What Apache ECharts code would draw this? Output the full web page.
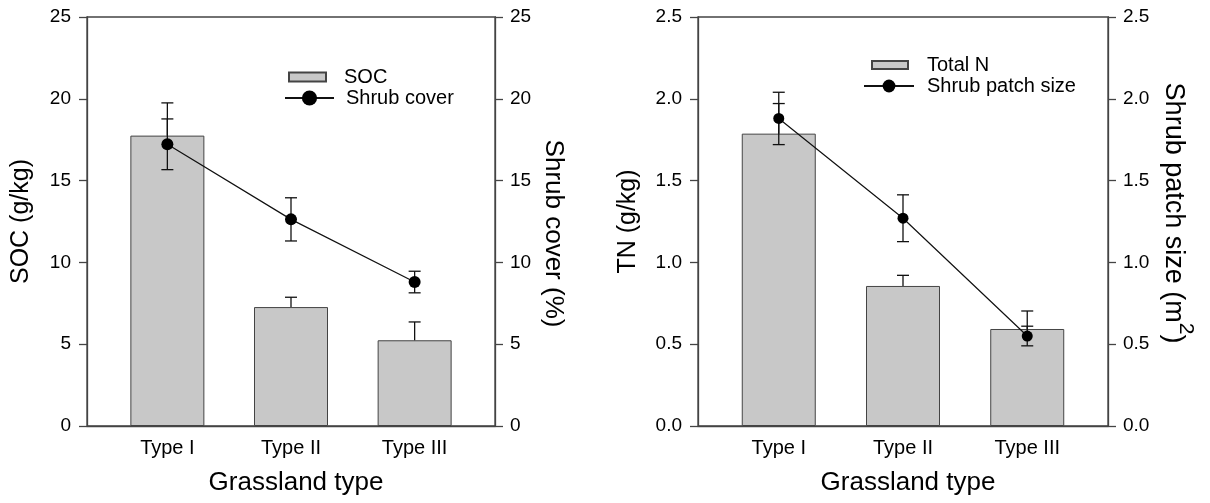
<!DOCTYPE html>
<html>
<head>
<meta charset="utf-8">
<script src="https://cdn.jsdelivr.net/npm/echarts@6/dist/echarts.min.js"></script>
<style>
  html, body { margin: 0; padding: 0; background: #fff; }
  #main { width: 1210px; height: 503px; }
</style>
</head>
<body>
<div id="main"></div>
<script>
  // data
  var categories = ['Type I', 'Type II', 'Type III'];
  var soc = [17.75, 7.27, 5.24];
  var socErr = [2.0, 0.6, 1.12];
  var shrubCover = [17.22, 12.63, 8.80];
  var shrubCoverErr = [1.55, 1.32, 0.66];
  var totalN = [1.787, 0.856, 0.593];
  var totalNErr = [0.184, 0.065, 0.11];
  var patchSize = [1.88, 1.27, 0.55];
  var patchSizeErr = [0.16, 0.143, 0.06];
  var categoryPos = [1, 2, 3];

  var FONT = 'Liberation Sans, Arial, sans-serif';
  var AXIS_COLOR = '#444';

  function pairs(vals) {
    return vals.map(function (v, i) { return [categoryPos[i], v]; });
  }
  // [x, y, err, both sides?]
  function errData(vals, errs, both) {
    return vals.map(function (v, i) { return [categoryPos[i], v, errs[i], both ? 1 : 0]; });
  }

  function renderErr(params, api) {
    var x = api.value(0), y = api.value(1), e = api.value(2), both = api.value(3);
    var top = api.coord([x, y + e]);
    var bot = api.coord([x, both ? y - e : y]);
    var w = 6;
    var st = { stroke: '#111', lineWidth: 1.3 };
    var kids = [
      { type: 'line', shape: { x1: top[0], y1: top[1], x2: bot[0], y2: bot[1] }, style: st },
      { type: 'line', shape: { x1: top[0] - w, y1: top[1], x2: top[0] + w, y2: top[1] }, style: st }
    ];
    if (both) {
      kids.push({ type: 'line', shape: { x1: bot[0] - w, y1: bot[1], x2: bot[0] + w, y2: bot[1] }, style: st });
    }
    return { type: 'group', children: kids };
  }

  function xAxis(gridIndex) {
    return {
      type: 'value', gridIndex: gridIndex, min: 0.35, max: 3.65,
      name: 'Grassland type', nameLocation: 'middle', nameGap: 44,
      nameTextStyle: { fontSize: 26, color: '#000', fontFamily: FONT, padding: [0, 0, 0, 10] },
      axisLine: { lineStyle: { color: AXIS_COLOR, width: 1.3 } },
      axisTick: { show: false },
      splitLine: { show: false },
      axisLabel: {
        customValues: categoryPos, margin: 12, fontSize: 20, color: '#000', fontFamily: FONT,
        formatter: function (v) { return categories[Math.round(v) - 1]; }
      }
    };
  }

  function yAxis(gridIndex, pos, max, interval, dec, name, nameGap, rotate, extra) {
    var a = {
      type: 'value', gridIndex: gridIndex, position: pos, min: 0, max: max, interval: interval,
      name: name, nameLocation: 'middle', nameGap: nameGap, nameRotate: rotate,
      nameTextStyle: { fontSize: 25, color: '#000', fontFamily: FONT },
      axisLine: { show: true, lineStyle: { color: AXIS_COLOR, width: 1.3 } },
      axisTick: { show: true, length: 8, lineStyle: { color: AXIS_COLOR, width: 1.3 } },
      splitLine: { show: false },
      axisLabel: {
        margin: pos === 'left' ? 16 : 15, fontSize: 19, color: '#000', fontFamily: FONT,
        formatter: function (v) { return v.toFixed(dec); }
      }
    };
    if (extra) {
      for (var k in extra) a.nameTextStyle[k] = extra[k];
    }
    return a;
  }

  var barStyle = { color: '#c8c8c8', borderColor: '#444', borderWidth: 1 };
  var lineStyle = { color: '#111', width: 1.2 };

  var myChart = echarts.init(document.getElementById('main'));
  var option = {
    backgroundColor: '#fff',
    animation: false,
    textStyle: { fontFamily: FONT },
    grid: [
      { left: 87, top: 17, width: 408, height: 409, show: true, borderColor: AXIS_COLOR, borderWidth: 1.3 },
      { left: 698, top: 17, width: 410, height: 409, show: true, borderColor: AXIS_COLOR, borderWidth: 1.3 }
    ],
    xAxis: [xAxis(0), xAxis(1)],
    yAxis: [
      yAxis(0, 'left', 25, 5, 0, 'SOC (g/kg)', 53, 90),
      yAxis(0, 'right', 25, 5, 0, 'Shrub cover (%)', 45, -90, { fontSize: 26, padding: [0, 0, 0, 24] }),
      yAxis(1, 'left', 2.5, 0.5, 1, 'TN (g/kg)', 57, 90),
      yAxis(1, 'right', 2.5, 0.5, 1, '{a|Shrub patch size (m}{s|2}{a|)}', 52, -90, {
        padding: [0, 17, 0, 0],
        rich: {
          a: { fontSize: 27, lineHeight: 36, color: '#000', fontFamily: FONT, verticalAlign: 'bottom' },
          s: { fontSize: 21, lineHeight: 36, color: '#000', fontFamily: FONT, verticalAlign: 'top' }
        }
      })
    ],
    legend: [
      { data: ['SOC'], left: 288, top: 67, padding: 0, itemWidth: 37, itemHeight: 9, icon: 'rect',
        textStyle: { fontSize: 20, color: '#000', fontFamily: FONT, padding: [0, 0, 0, 13] } },
      { data: ['Shrub cover'], left: 284, top: 88, padding: 0, itemWidth: 49, itemHeight: 19,
        textStyle: { fontSize: 20, color: '#000', fontFamily: FONT, padding: [0, 0, 0, 7] } },
      { data: ['Total N'], left: 871, top: 55, padding: 0, itemWidth: 36, itemHeight: 8, icon: 'rect',
        textStyle: { fontSize: 20, color: '#000', fontFamily: FONT, padding: [0, 0, 0, 14] } },
      { data: ['Shrub patch size'], left: 863, top: 76, padding: 0, itemWidth: 50, itemHeight: 16,
        textStyle: { fontSize: 20, color: '#000', fontFamily: FONT, padding: [0, 0, 0, 8] } }
    ],
    series: [
      { name: 'SOC', type: 'bar', xAxisIndex: 0, yAxisIndex: 0, barWidth: 74,
        itemStyle: barStyle, data: pairs(soc), z: 2 },
      { name: 'socErr', type: 'custom', xAxisIndex: 0, yAxisIndex: 0, renderItem: renderErr,
        data: errData(soc, socErr, false), z: 3 },
      { name: 'Shrub cover', type: 'line', xAxisIndex: 0, yAxisIndex: 1, symbol: 'circle', symbolSize: 12,
        itemStyle: { color: '#000' }, lineStyle: lineStyle, data: pairs(shrubCover), z: 5 },
      { name: 'coverErr', type: 'custom', xAxisIndex: 0, yAxisIndex: 1, renderItem: renderErr,
        data: errData(shrubCover, shrubCoverErr, true), z: 4 },

      { name: 'Total N', type: 'bar', xAxisIndex: 1, yAxisIndex: 2, barWidth: 74,
        itemStyle: barStyle, data: pairs(totalN), z: 2 },
      { name: 'tnErr', type: 'custom', xAxisIndex: 1, yAxisIndex: 2, renderItem: renderErr,
        data: errData(totalN, totalNErr, false), z: 3 },
      { name: 'Shrub patch size', type: 'line', xAxisIndex: 1, yAxisIndex: 3, symbol: 'circle', symbolSize: 11,
        itemStyle: { color: '#000' }, lineStyle: lineStyle, data: pairs(patchSize), z: 5 },
      { name: 'patchErr', type: 'custom', xAxisIndex: 1, yAxisIndex: 3, renderItem: renderErr,
        data: errData(patchSize, patchSizeErr, true), z: 4 }
    ]
  };
  myChart.setOption(option);
</script>
</body>
</html>
